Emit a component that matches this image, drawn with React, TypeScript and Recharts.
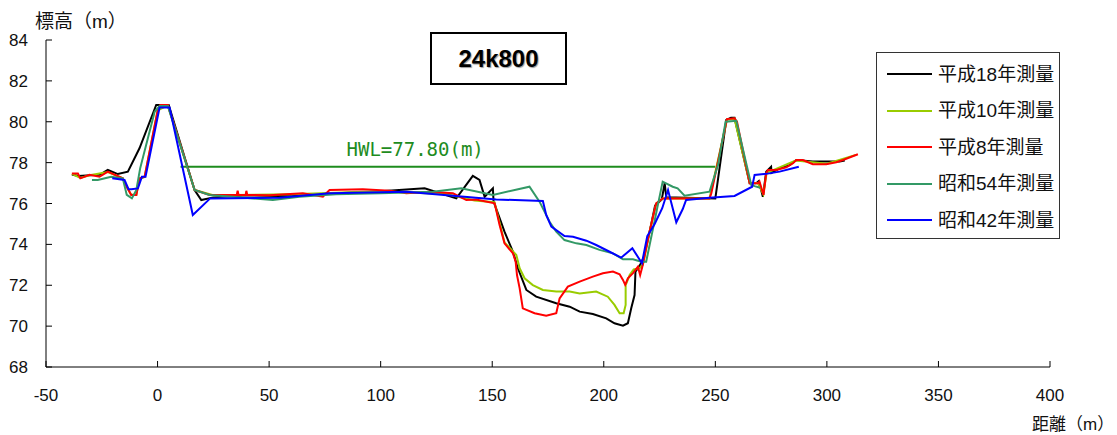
import { LineChart, Line, XAxis, YAxis, ReferenceLine, Legend, Label } from "recharts";

// 横断面 24k800 : 距離(m) / 標高(m)
const X_TICKS = [-50, 0, 50, 100, 150, 200, 250, 300, 350, 400];
const Y_TICKS = [68, 70, 72, 74, 76, 78, 80, 82, 84];

const HWL = 77.8;
const HWL_FROM = 10.3;
const HWL_TO = 250;

const H18_X = [-38.4, -35.5, -30, -26, -22.3, -17.8, -13.3, -8.1, -0.6, 5, 16.6, 19.6, 25, 40, 60, 80, 100, 119.7, 133.9, 141.3, 144.3, 146.6, 150.3, 150.6, 155.5, 159.3, 161.5, 165.3, 169.7, 178.7, 184.7, 189.2, 195.1, 201.1, 204.8, 208.6, 210.8, 212.3, 213.8, 214.2, 215.3, 216.3, 218, 220.5, 223, 226, 227.3, 228, 250, 254.9, 257, 258.6, 265.4, 268.3, 269.5, 271.3, 272.8, 275, 275.2, 278.8, 283.3, 286.3, 293.7, 305.7, 308];
const H18_Y = [77.42, 77.35, 77.38, 77.4, 77.64, 77.44, 77.56, 78.7, 80.82, 80.82, 76.66, 76.17, 76.3, 76.4, 76.35, 76.5, 76.6, 76.74, 76.25, 77.35, 77.15, 76.33, 76.74, 76.1, 74.62, 73.64, 72.83, 71.77, 71.44, 71.12, 70.95, 70.71, 70.59, 70.38, 70.14, 70.02, 70.14, 70.87, 71.52, 72.66, 72.83, 73.0, 73.4, 74.6, 75.9, 76.2, 77.0, 76.3, 76.25, 80.09, 80.2, 80.2, 76.99, 76.99, 77.1, 76.33, 77.56, 77.8, 77.5, 77.72, 77.88, 78.13, 78.05, 78.05, 78.1];

const H10_X = [-38.4, -34.6, -30.5, -22.3, -15.6, -13.8, -11.8, -9.5, -8.1, -5.8, 0.1, 4.6, 16.6, 25, 60, 100, 130, 142, 151, 155.5, 160.8, 162.3, 164.5, 168.2, 172.7, 178.7, 184.7, 189.2, 196.6, 201.8, 204.8, 207.1, 208.9, 209.8, 209.8, 211.6, 213.4, 216, 217.5, 220.5, 223.5, 226.4, 247.4, 255.2, 258.6, 265.4, 269, 271.5, 273, 286, 300, 313];
const H10_Y = [77.45, 77.25, 77.38, 77.54, 77.23, 76.8, 76.43, 76.43, 77.2, 77.3, 80.56, 80.8, 76.66, 76.4, 76.45, 76.6, 76.45, 76.15, 76.06, 74.1, 73.48, 72.83, 72.34, 72.01, 71.77, 71.69, 71.69, 71.6, 71.69, 71.44, 71.04, 70.63, 70.63, 71.04, 72.0, 72.5, 72.78, 72.83, 73.0, 74.6, 76.0, 76.25, 76.25, 80.1, 80.15, 77.0, 77.0, 76.45, 77.5, 78.1, 77.95, 78.38];

const H8_X = [-38.4, -35.7, -34.6, -30.5, -26, -22.3, -15.6, -13.8, -11.8, -9.5, -8.1, -5.8, 0.1, 1.2, 4.6, 16.6, 23.3, 29.3, 35.5, 35.9, 36.3, 39.5, 39.8, 40.2, 50, 65.1, 74.1, 77.1, 92, 104, 111.5, 121.9, 132.4, 138.4, 142.8, 151.1, 153.3, 155.5, 159.3, 160.5, 161.1, 162.3, 163.7, 169, 174.2, 178.7, 180.2, 183.9, 189.2, 195.1, 199.6, 204.1, 207.1, 208.6, 209.6, 210.8, 213.1, 215.3, 216.3, 217.5, 220.5, 223.5, 226.4, 247.4, 248.2, 255.2, 258.6, 259.7, 265.4, 269.1, 269.8, 271.6, 272.8, 273.6, 277.3, 281.8, 284.8, 286.3, 289.2, 293.7, 299.7, 304.2, 307.2, 313.9];
const H8_Y = [77.47, 77.47, 77.23, 77.4, 77.31, 77.56, 77.23, 76.82, 76.42, 76.42, 77.23, 77.31, 80.58, 80.82, 80.82, 76.66, 76.42, 76.42, 76.42, 76.62, 76.42, 76.42, 76.62, 76.42, 76.4, 76.5, 76.33, 76.66, 76.7, 76.63, 76.5, 76.58, 76.5, 76.17, 76.2, 76.01, 74.95, 74.05, 73.56, 73.15, 72.5, 71.85, 70.87, 70.63, 70.51, 70.63, 71.36, 71.93, 72.18, 72.42, 72.59, 72.67, 72.54, 72.26, 72.02, 72.34, 72.59, 72.91, 72.5, 73.0, 74.62, 76.01, 76.25, 76.25, 76.5, 80.13, 80.17, 80.0, 76.99, 76.99, 77.07, 76.42, 77.48, 77.64, 77.64, 77.77, 77.97, 78.13, 78.13, 77.92, 77.92, 78.02, 78.13, 78.41];

const S54_X = [-29.4, -26.8, -20.8, -15.6, -13.8, -11.5, -9.5, -7.8, -1.3, 0.9, 4.6, 16.6, 23.3, 33.8, 51.7, 63.6, 80, 100, 123.4, 136.1, 150.3, 166.7, 171.2, 175.7, 178.7, 182.4, 187.7, 192.2, 198.1, 204.1, 208.6, 213.1, 216.8, 219, 226.4, 230.9, 233.1, 236.2, 247.4, 251.2, 254.6, 259.4, 266.1, 267.6, 270.1];
const S54_Y = [77.15, 77.15, 77.31, 77.23, 76.42, 76.25, 76.66, 77.72, 80.49, 80.77, 80.77, 76.66, 76.42, 76.33, 76.17, 76.33, 76.45, 76.5, 76.58, 76.74, 76.42, 76.82, 76.09, 75.11, 74.62, 74.21, 74.05, 73.97, 73.73, 73.56, 73.27, 73.27, 73.15, 73.15, 77.07, 76.82, 76.74, 76.38, 76.58, 77.88, 80.0, 80.05, 76.91, 76.85, 76.77];

const S42_X = [-20.3, -14.8, -13, -11.8, -8.8, -7, -5.4, 0.9, 5.4, 15.8, 23.6, 54.6, 77.1, 111.5, 151.8, 172.7, 174.2, 176.5, 182.4, 186.2, 192.2, 196.6, 202.6, 207.8, 212.8, 217.1, 219.5, 222.8, 226.2, 228.8, 232.5, 235.4, 236.9, 247.4, 258.6, 266.5, 267.6, 272.8, 278.8, 287.4];
const S42_Y = [77.23, 77.15, 76.7, 76.7, 76.74, 77.31, 77.31, 80.7, 80.7, 75.44, 76.25, 76.28, 76.5, 76.58, 76.2, 76.12, 75.44, 74.87, 74.41, 74.37, 74.18, 73.97, 73.64, 73.35, 73.81, 73.08, 74.4, 75.0, 75.77, 76.66, 75.08, 75.73, 76.17, 76.28, 76.37, 76.82, 77.4, 77.45, 77.56, 77.8];

const toPoints = (xs: number[], ys: number[]) => xs.map((x, i) => ({ x, y: ys[i] }));

const SERIES = [
  { name: "平成18年測量", color: "#000000", data: toPoints(H18_X, H18_Y) },
  { name: "平成10年測量", color: "#99CC00", data: toPoints(H10_X, H10_Y) },
  { name: "平成8年測量", color: "#FF0000", data: toPoints(H8_X, H8_Y) },
  { name: "昭和54年測量", color: "#339966", data: toPoints(S54_X, S54_Y) },
  { name: "昭和42年測量", color: "#0000FF", data: toPoints(S42_X, S42_Y) },
];

const NUM_FONT = "'Liberation Sans', Arial, sans-serif";
const JP_FONT = "'Liberation Sans', 'Noto Sans CJK JP', sans-serif";

// legend order kept as drawn (recharts sorts payload by default)
const LegendBox = () => (
  <div
    style={{
      width: 184,
      height: 187,
      boxSizing: "border-box",
      border: "1px solid #333",
      background: "#fff",
      paddingTop: 3,
    }}
  >
    {SERIES.map((s) => (
      <div key={s.name} style={{ display: "flex", alignItems: "center", height: 36.5 }}>
        <span style={{ marginLeft: 10, width: 45, height: 2, background: s.color }} />
        <span
          style={{
            marginLeft: 6,
            fontFamily: JP_FONT,
            fontSize: 19,
            color: "#111",
            lineHeight: 1,
            whiteSpace: "nowrap",
          }}
        >
          {s.name}
        </span>
      </div>
    ))}
  </div>
);

const HwlLabel = (props: any) => {
  const vb = props.viewBox || {};
  return (
    <text
      x={vb.x + 166}
      y={vb.y - 11}
      fill="#1E8C1E"
      fontSize={19}
      fontFamily="'DejaVu Sans Mono', monospace"
    >
      HWL=77.80(m)
    </text>
  );
};

export default function App() {
  return (
    <div style={{ position: "absolute", left: 0, top: 0, width: 1117, height: 435, background: "#fff" }}>
      <LineChart width={1117} height={435} margin={{ top: 40, right: 67, left: 0, bottom: 38 }}>
        <XAxis
          type="number"
          dataKey="x"
          domain={[-50, 400]}
          ticks={X_TICKS}
          allowDataOverflow
          height={30}
          tickSize={-6}
          tickMargin={28}
          stroke="#000"
          tick={{ fill: "#111", fontSize: 17, fontFamily: NUM_FONT }}
        />
        <YAxis
          type="number"
          domain={[68, 84]}
          ticks={Y_TICKS}
          allowDataOverflow
          width={46}
          tickSize={-6}
          tickMargin={24}
          stroke="#000"
          tick={{ fill: "#111", fontSize: 17, fontFamily: NUM_FONT }}
        />
        <ReferenceLine
          segment={[{ x: HWL_FROM, y: HWL }, { x: HWL_TO, y: HWL }]}
          stroke="#1E8C1E"
          strokeWidth={2}
          ifOverflow="visible"
        >
          <Label content={HwlLabel} />
        </ReferenceLine>
        {SERIES.map((s) => (
          <Line
            key={s.name}
            name={s.name}
            data={s.data}
            dataKey="y"
            type="linear"
            stroke={s.color}
            strokeWidth={2}
            dot={false}
            activeDot={false}
            isAnimationActive={false}
          />
        ))}
        <Legend
          layout="vertical"
          align="center"
          verticalAlign="middle"
          content={LegendBox}
          wrapperStyle={{ left: 876, top: 52, width: 184, height: 187 }}
        />
      </LineChart>

      <div
        style={{
          position: "absolute",
          left: 430,
          top: 32,
          width: 137,
          height: 53,
          boxSizing: "border-box",
          border: "2px solid #000",
          display: "flex",
          alignItems: "center",
          justifyContent: "center",
          fontFamily: NUM_FONT,
          fontWeight: "bold",
          fontSize: 24,
          textShadow: "1px 1px 1px #999",
        }}
      >
        24k800
      </div>
      <div style={{ position: "absolute", left: 35, top: 6, fontFamily: JP_FONT, fontSize: 19, color: "#111" }}>
        標高（m）
      </div>
      <div style={{ position: "absolute", left: 1032, top: 410, fontFamily: JP_FONT, fontSize: 17, color: "#111", whiteSpace: "nowrap" }}>
        距離（m）
      </div>
    </div>
  );
}
